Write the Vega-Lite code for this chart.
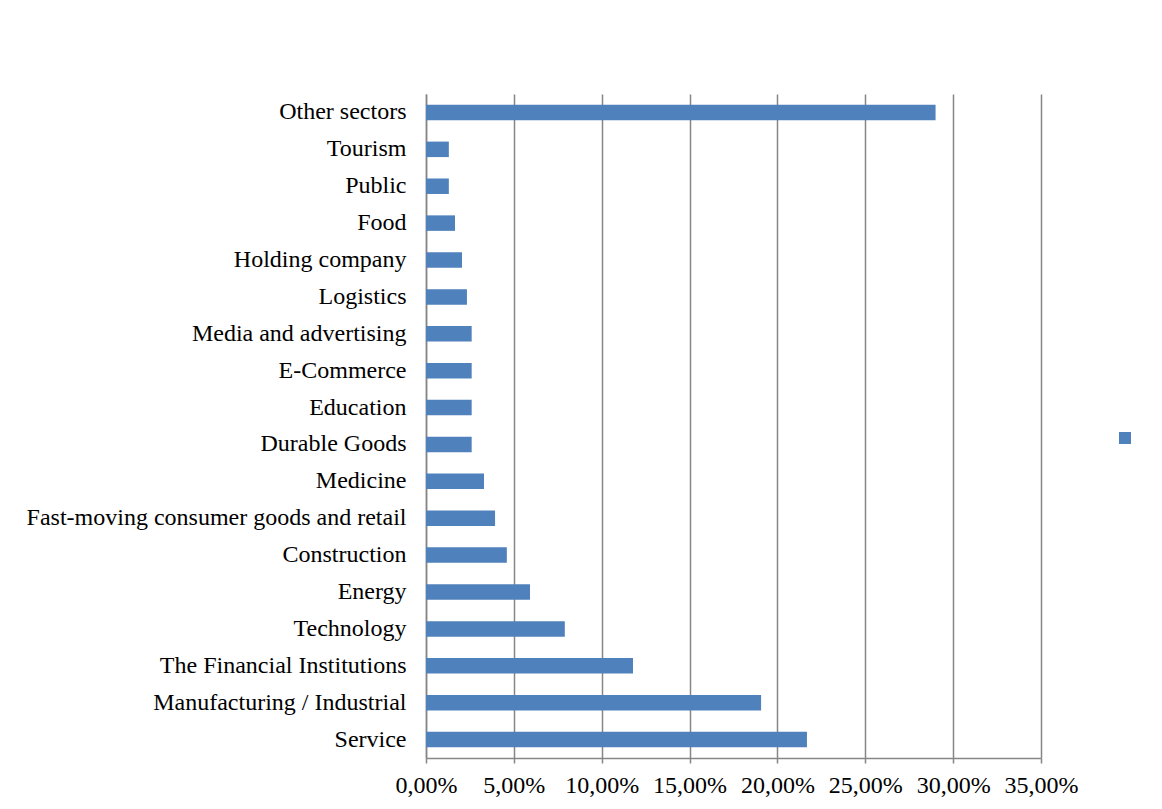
{
  "$schema": "https://vega.github.io/schema/vega-lite/v6.json",
  "autosize": {"type": "none"},
  "width": 615,
  "height": 664,
  "padding": {"left": 426, "top": 94, "right": 121, "bottom": 51},
  "background": "white",
  "data": {"values": [
    {"sector": "Other sectors", "value": 0.29, "s": " "},
    {"sector": "Tourism", "value": 0.013, "s": " "},
    {"sector": "Public", "value": 0.013, "s": " "},
    {"sector": "Food", "value": 0.0165, "s": " "},
    {"sector": "Holding company", "value": 0.0205, "s": " "},
    {"sector": "Logistics", "value": 0.0233, "s": " "},
    {"sector": "Media and advertising", "value": 0.026, "s": " "},
    {"sector": "E-Commerce", "value": 0.026, "s": " "},
    {"sector": "Education", "value": 0.026, "s": " "},
    {"sector": "Durable Goods", "value": 0.026, "s": " "},
    {"sector": "Medicine", "value": 0.033, "s": " "},
    {"sector": "Fast-moving consumer goods and retail", "value": 0.0393, "s": " "},
    {"sector": "Construction", "value": 0.046, "s": " "},
    {"sector": "Energy", "value": 0.0592, "s": " "},
    {"sector": "Technology", "value": 0.079, "s": " "},
    {"sector": "The Financial Institutions", "value": 0.1178, "s": " "},
    {"sector": "Manufacturing / Industrial", "value": 0.1907, "s": " "},
    {"sector": "Service", "value": 0.2168, "s": " "}
  ]},
  "mark": {"type": "bar"},
  "encoding": {
    "y": {
      "field": "sector", "type": "nominal", "sort": null,
      "scale": {"paddingInner": 0.58, "paddingOuter": 0.29},
      "axis": {"title": null, "ticks": false, "labelPadding": 20, "labelFontSize": 24, "labelFont": "Liberation Serif", "labelColor": "black", "domainColor": "#868686", "domainWidth": 1.5, "labelLimit": 600}
    },
    "x": {
      "field": "value", "type": "quantitative",
      "scale": {"domain": [0, 0.35], "nice": false},
      "axis": {"title": null, "values": [0, 0.05, 0.1, 0.15, 0.2, 0.25, 0.3, 0.35], "labelExpr": "replace(format(datum.value, '.2%'), '.', ',')", "labelOverlap": false, "labelFlush": false, "labelBound": false, "labelFontSize": 24, "labelFont": "Liberation Serif", "labelColor": "black", "grid": true, "gridColor": "#868686", "gridWidth": 1.5, "domainColor": "#868686", "domainWidth": 1.5, "tickColor": "#868686", "tickWidth": 1.5, "tickSize": 5, "labelPadding": 10}
    },
    "color": {
      "field": "s", "type": "nominal",
      "scale": {"range": ["#4F81BD"]},
      "legend": {"title": null, "orient": "none", "legendX": 693, "legendY": 338, "symbolType": "square", "symbolSize": 144, "symbolStrokeWidth": 0, "labelFontSize": 1}
    }
  },
  "config": {"view": {"stroke": null}}
}
